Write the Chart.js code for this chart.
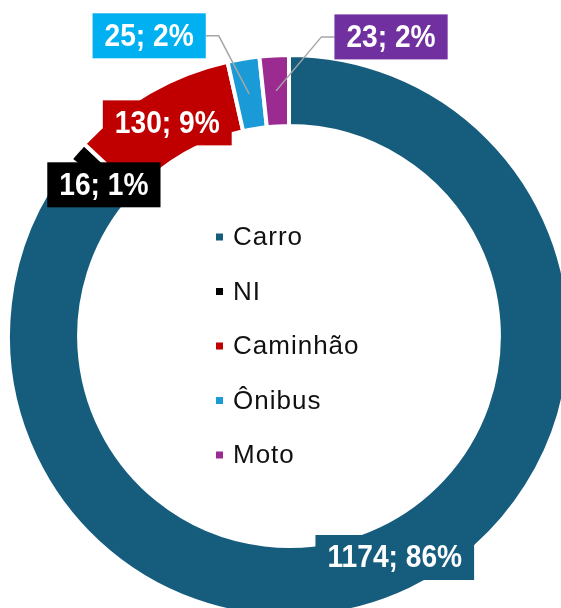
<!DOCTYPE html>
<html>
<head>
<meta charset="utf-8">
<script src="https://cdn.jsdelivr.net/npm/chart.js@4.4.1/dist/chart.umd.min.js"></script>
<style>
  html, body { margin: 0; padding: 0; background: #fff; overflow: hidden; width: 561px; height: 608px; }
  #wrap { position: absolute; left: 0; top: 0; width: 600px; height: 640px; }
</style>
</head>
<body>
<div id="wrap"><canvas id="veiculos"></canvas></div>
<script>
const categorias = ["Carro", "NI", "Caminhão", "Ônibus", "Moto"];
const quantidades = [1174, 16, 130, 25, 23];
const percentuais = ["86%", "1%", "9%", "2%", "2%"];

const coresFatia = ["#165c7d", "#000000", "#c00000", "#1a9ad6", "#9b2b90"];
const coresRotulo = ["#165c7d", "#000000", "#c00000", "#00b0f0", "#7030a0"];

// onde cada rótulo fica em relação ao meio da fatia
const posRotulo = [
    { dx: 0, dy: 0 },
    { dx: 0, dy: 10 },
    { dx: 0, dy: 0 },
    { dx: -100, dy: -58, linha: true },
    { dx: 115, dy: -54, linha: true }
];

const rotulosPlugin = {
    id: "rotulos",
    afterDatasetsDraw(chart) {
        const ctx = chart.ctx;
        const arcs = chart.getDatasetMeta(0).data;
        arcs.forEach((arc, i) => {
            const p = arc.getProps(["x", "y", "startAngle", "endAngle", "innerRadius", "outerRadius"], true);
            const meio = (p.startAngle + p.endAngle) / 2;
            const r = (p.innerRadius + p.outerRadius) / 2;
            const ax = p.x + Math.cos(meio) * r;
            const ay = p.y + Math.sin(meio) * r;
            const pos = posRotulo[i];
            const cx = ax + pos.dx;
            const cy = ay + pos.dy;
            const texto = quantidades[i] + "; " + percentuais[i];

            ctx.save();
            ctx.font = "bold 32px 'Liberation Sans', Arial, sans-serif";
            const estreito = 0.88;
            const w = ctx.measureText(texto).width * estreito + 24;
            const h = 45;

            if (pos.linha) {
                const bordaX = pos.dx < 0 ? cx + w / 2 : cx - w / 2;
                const cotoveloX = pos.dx < 0 ? bordaX + 13 : bordaX - 13;
                ctx.strokeStyle = "#a6a6a6";
                ctx.lineWidth = 1.5;
                ctx.beginPath();
                ctx.moveTo(ax, ay);
                ctx.lineTo(cotoveloX, cy);
                ctx.lineTo(bordaX, cy);
                ctx.stroke();
            }

            ctx.fillStyle = coresRotulo[i];
            ctx.fillRect(cx - w / 2, cy - h / 2, w, h);
            ctx.fillStyle = "#ffffff";
            ctx.textAlign = "center";
            ctx.textBaseline = "middle";
            ctx.translate(cx, cy + 1);
            ctx.scale(estreito, 1);
            ctx.fillText(texto, 0, 0);
            ctx.restore();
        });
    }
};

// legenda desenhada no furo do anel
const legendaPlugin = {
    id: "legendaCentro",
    afterDraw(chart) {
        const ctx = chart.ctx;
        const arc = chart.getDatasetMeta(0).data[0];
        const x = arc.x, y = arc.y;
        ctx.save();
        ctx.font = "26px 'Liberation Sans', Arial, sans-serif";
        ctx.letterSpacing = "1px";
        ctx.textBaseline = "middle";
        categorias.forEach((nome, i) => {
            const ly = y + 10 + (i - 2) * 54.5;
            ctx.fillStyle = coresFatia[i];
            ctx.fillRect(x - 73, ly - 3.5, 7, 7);
            ctx.fillStyle = "#111111";
            ctx.fillText(nome, x - 56, ly + 1);
        });
        ctx.restore();
    }
};

new Chart(document.getElementById("veiculos"), {
    type: "doughnut",
    data: {
        labels: categorias,
        datasets: [{
            data: quantidades,
            backgroundColor: coresFatia,
            borderColor: "#ffffff",
            borderWidth: 4
        }]
    },
    options: {
        responsive: true,
        maintainAspectRatio: false,
        animation: false,
        cutout: "74.7%",
        layout: { padding: { left: 6, top: 53, right: 28, bottom: 21 } },
        plugins: {
            legend: { display: false },
            tooltip: { enabled: false }
        }
    },
    plugins: [rotulosPlugin, legendaPlugin]
});
</script>
</body>
</html>
